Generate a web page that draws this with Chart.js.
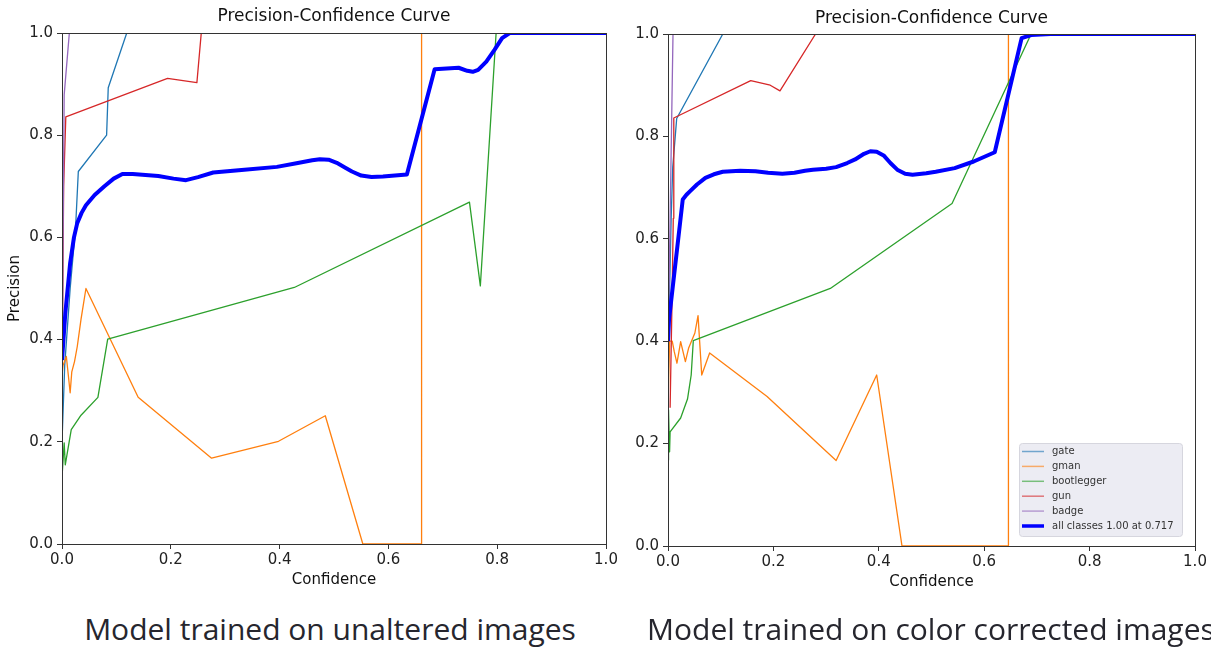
<!DOCTYPE html>
<html>
<head>
<meta charset="utf-8">
<script src="https://cdn.jsdelivr.net/npm/chart.js@4.4.1/dist/chart.umd.min.js"></script>
<style>
  html, body { margin: 0; padding: 0; background: #fff; width: 1211px; height: 652px; overflow: hidden; }
  .plot { position: absolute; top: 0; }
  .caption { position: absolute; top: 608px; font-family: 'Open Sans', sans-serif; font-size: 30px; color: #26262e; white-space: nowrap; }
</style>
</head>
<body>
<canvas id="left" class="plot" width="620" height="600" style="left:0px"></canvas>
<canvas id="right" class="plot" width="605" height="600" style="left:606px"></canvas>
<div class="caption" style="left:0px;width:660px;text-align:center">Model trained on unaltered images</div>
<div class="caption" style="left:647px">Model trained on color corrected images</div>
<script>
// ── data (confidence, precision) ──
const classNames = ['gate', 'gman', 'bootlegger', 'gun', 'badge', 'all classes 1.00 at 0.717'];
const axisTicks = [0, 0.2, 0.4, 0.6, 0.8, 1.0];

// unaltered images
const leftGate = [[0, 0.2], [0.005, 0.35], [0.015, 0.5], [0.025, 0.62], [0.03, 0.729], [0.082, 0.80], [0.085, 0.893], [0.119, 1.0], [1, 1.0]];
const leftGman = [[0, 0.33], [0.002, 0.35], [0.008, 0.367], [0.015, 0.296], [0.018, 0.337], [0.023, 0.357], [0.028, 0.386], [0.035, 0.44], [0.044, 0.50], [0.14, 0.287], [0.275, 0.168], [0.398, 0.201], [0.484, 0.251], [0.553, 0], [0.661, 0], [0.661, 1.0], [1, 1.0]];
const leftBoot = [[0, 0.13], [0.004, 0.198], [0.006, 0.155], [0.017, 0.224], [0.035, 0.252], [0.066, 0.287], [0.084, 0.401], [0.427, 0.502], [0.749, 0.669], [0.769, 0.505], [0.798, 1.0], [1, 1.0]];
const leftGun = [[0, 0.3], [0.003, 0.7], [0.007, 0.836], [0.194, 0.911], [0.248, 0.903], [0.256, 1.0], [1, 1.0]];
const leftBadge = [[0, 0.3], [0.002, 0.6], [0.004, 0.879], [0.0135, 1.0], [1, 1.0]];
const leftAll = [[0, 0.36], [0.006, 0.45], [0.015, 0.55], [0.022, 0.60], [0.028, 0.628], [0.036, 0.648], [0.044, 0.663], [0.06, 0.683], [0.078, 0.70],
  [0.095, 0.715], [0.111, 0.724], [0.13, 0.724], [0.177, 0.72], [0.205, 0.715], [0.228, 0.712], [0.25, 0.718], [0.278, 0.727], [0.33, 0.732],
  [0.395, 0.738], [0.431, 0.745], [0.46, 0.751], [0.474, 0.753], [0.49, 0.752], [0.505, 0.746], [0.52, 0.737], [0.533, 0.729], [0.55, 0.721],
  [0.569, 0.718], [0.59, 0.719], [0.634, 0.723], [0.685, 0.929], [0.729, 0.932], [0.745, 0.926], [0.755, 0.924], [0.765, 0.928], [0.78, 0.944],
  [0.795, 0.967], [0.809, 0.99], [0.823, 1.0], [1, 1.0]];

// color corrected images
const rightGate = [[0, 0.3], [0.003, 0.5], [0.006, 0.64], [0.009, 0.74], [0.0165, 0.835], [0.104, 1.0], [1, 1.0]];
const rightGman = [[0, 0.27], [0.003, 0.40], [0.008, 0.40], [0.012, 0.379], [0.017, 0.357], [0.024, 0.399], [0.033, 0.36], [0.039, 0.386], [0.051, 0.416], [0.057, 0.45], [0.064, 0.334], [0.079, 0.377], [0.188, 0.292], [0.319, 0.167], [0.396, 0.334], [0.444, 0], [0.646, 0], [0.646, 1.0], [1, 1.0]];
const rightBoot = [[0, 0.168], [0.001, 0.266], [0.003, 0.184], [0.004, 0.223], [0.024, 0.25], [0.037, 0.287], [0.044, 0.334], [0.048, 0.401], [0.308, 0.503], [0.539, 0.669], [0.689, 1.0], [1, 1.0]];
const rightGun = [[0.004, 0.27], [0.008, 0.5], [0.010, 0.64], [0.011, 0.836], [0.157, 0.909], [0.194, 0.90], [0.2125, 0.889], [0.28, 1.0], [1, 1.0]];
const rightBadge = [[0, 0.38], [0.004, 0.64], [0.0095, 1.0], [1, 1.0]];
const rightAll = [[0, 0.40], [0.002, 0.443], [0.028, 0.677], [0.035, 0.686], [0.042, 0.693], [0.055, 0.706], [0.071, 0.719], [0.087, 0.726],
  [0.104, 0.731], [0.137, 0.733], [0.166, 0.732], [0.19, 0.729], [0.217, 0.727], [0.24, 0.729], [0.26, 0.733], [0.275, 0.735], [0.3, 0.737],
  [0.319, 0.74], [0.34, 0.748], [0.355, 0.755], [0.372, 0.766], [0.384, 0.771], [0.396, 0.77], [0.41, 0.762], [0.422, 0.748], [0.435, 0.735],
  [0.45, 0.727], [0.464, 0.725], [0.49, 0.728], [0.508, 0.731], [0.544, 0.738], [0.58, 0.751], [0.62, 0.769], [0.671, 0.992], [0.689, 0.998],
  [0.726, 1.0], [1, 1.0]];

const COLORS = ['#1f77b4', '#ff7f0e', '#2ca02c', '#d62728', '#9467bd', '#0000ff'];
const FONT = 'DejaVu Sans';

function makeDatasets(series) {
  return series.map((pts, i) => ({
    label: classNames[i],
    data: pts.map(p => ({ x: p[0], y: p[1] })),
    borderColor: COLORS[i],
    borderWidth: i === 5 ? 4 : 1.3,
    borderJoinStyle: 'round',
    pointRadius: 0,
    fill: false,
    clip: 0,
    order: 5 - i,
    tension: 0
  }));
}

// matplotlib-style frame drawn over the lines + title centred on the axes
const framePlugin = {
  id: 'frame',
  afterDatasetsDraw(chart, args, opts) {
    const { ctx, chartArea: a } = chart;
    ctx.save();
    ctx.strokeStyle = '#333';
    ctx.lineWidth = 1;
    ctx.strokeRect(Math.round(a.left) + 0.5, Math.round(a.top) + 0.5, Math.round(a.right - a.left), Math.round(a.bottom - a.top));
    ctx.fillStyle = '#111';
    ctx.font = '17px "' + FONT + '"';
    ctx.textAlign = 'center';
    ctx.textBaseline = 'middle';
    ctx.fillText(opts.title, (a.left + a.right) / 2, opts.titleY);
    ctx.restore();
  }
};

// legend box in the lower right of the plot
const boxLegend = {
  id: 'boxLegend',
  afterDraw(chart, args, opts) {
    if (!opts.show) return;
    const { ctx, chartArea: a } = chart;
    const w = 163, h = 93, right = a.right - 13, bottom = a.bottom - 10;
    const x = right - w, y = bottom - h;
    ctx.save();
    ctx.fillStyle = 'rgba(234,234,242,0.9)';
    ctx.strokeStyle = '#d6d6de';
    ctx.lineWidth = 1;
    ctx.beginPath();
    ctx.roundRect(x + 0.5, y + 0.5, w, h, 3);
    ctx.fill();
    ctx.stroke();
    ctx.font = '10px "' + FONT + '"';
    ctx.textBaseline = 'middle';
    chart.data.datasets.forEach((ds, i) => {
      const cy = y + 8.5 + i * 14.9;
      ctx.globalAlpha = i === 5 ? 1 : 0.6;
      ctx.strokeStyle = ds.borderColor;
      ctx.lineWidth = i === 5 ? 3.5 : 1.5;
      ctx.beginPath();
      ctx.moveTo(x + 3, cy);
      ctx.lineTo(x + 25, cy);
      ctx.stroke();
      ctx.globalAlpha = 1;
      ctx.fillStyle = '#333';
      ctx.fillText(ds.label, x + 33, cy);
    });
    ctx.restore();
  }
};

function makeChart(id, series, o) {
  return new Chart(document.getElementById(id), {
    type: 'line',
    data: { datasets: makeDatasets(series) },
    plugins: [framePlugin, boxLegend],
    options: {
      responsive: false,
      animation: false,
      events: [],
      layout: { padding: { left: 0, right: o.padRight, top: o.top, bottom: 0 } },
      plugins: {
        legend: { display: false },
        tooltip: { enabled: false },
        frame: { title: 'Precision-Confidence Curve', titleY: o.titleY },
        boxLegend: { show: o.legend }
      },
      scales: {
        x: {
          type: 'linear', min: 0, max: 1,
          afterBuildTicks: s => { s.ticks = axisTicks.map(v => ({ value: v })); },
          afterFit: s => { s.height = o.xHeight; },
          ticks: { color: '#222', font: { family: FONT, size: 15 }, padding: 2, maxRotation: 0, callback: v => v.toFixed(1) },
          grid: { drawOnChartArea: false, drawTicks: true, tickLength: 5, tickColor: '#333' },
          border: { display: false },
          title: { display: true, text: 'Confidence', color: '#111', font: { family: FONT, size: 15 }, padding: { top: 0, bottom: o.xTitlePad } }
        },
        y: {
          type: 'linear', min: 0, max: 1,
          afterBuildTicks: s => { s.ticks = axisTicks.map(v => ({ value: v })); },
          afterFit: s => { s.width = 62; },
          ticks: { color: '#222', font: { family: FONT, size: 15 }, padding: 4, callback: v => v.toFixed(1) },
          grid: { drawOnChartArea: false, drawTicks: true, tickLength: 5, tickColor: '#333' },
          border: { display: false },
          title: { display: o.yTitle, text: 'Precision', color: '#111', font: { family: FONT, size: 15 }, padding: { top: 6, bottom: 0 } }
        }
      }
    }
  });
}

makeChart('left', [leftGate, leftGman, leftBoot, leftGun, leftBadge, leftAll],
  { padRight: 14, top: 33, titleY: 17, xHeight: 56, xTitlePad: 11, yTitle: true, legend: false });
makeChart('right', [rightGate, rightGman, rightBoot, rightGun, rightBadge, rightAll],
  { padRight: 16, top: 34, titleY: 19, xHeight: 54, xTitlePad: 9, yTitle: false, legend: true });
</script>
</body>
</html>
